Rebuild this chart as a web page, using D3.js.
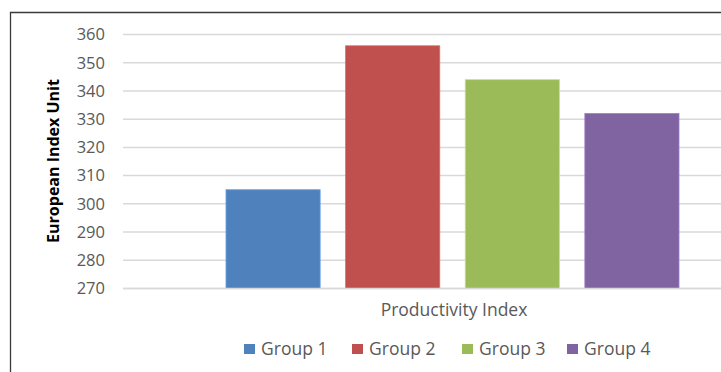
<!DOCTYPE html>
<html>
<head>
<meta charset="utf-8">
<script src="https://cdn.jsdelivr.net/npm/d3@7"></script>
<style>
  html, body { margin: 0; padding: 0; background: #ffffff; }
  svg { display: block; }
</style>
</head>
<body>
<div id="chart"></div>
<script>
// Productivity index per group
const categories = ["Group 1", "Group 2", "Group 3", "Group 4"];
const values = [305, 356, 344, 332];
const colors = ["#4F81BD", "#C0504D", "#9BBB59", "#8064A2"];
const yTicks = [270, 280, 290, 300, 310, 320, 330, 340, 350, 360];
const xAxisLabel = "Productivity Index";
const yAxisLabel = "European Index Unit";

const W = 721, H = 372;
const font = "'Open Sans', 'DejaVu Sans', sans-serif";

const svg = d3.select("#chart").append("svg")
  .attr("width", W).attr("height", H);

// chart frame (left and top edges visible)
svg.append("path")
  .attr("d", `M10.5,${H} V12.5 H${W}`)
  .attr("fill", "none")
  .attr("stroke", "#3a3a3a")
  .attr("stroke-width", 1.3);

const plot = { left: 123, right: W, top: 34.5, bottom: 288.5 };

const y = d3.scaleLinear().domain([270, 360]).range([plot.bottom, plot.top]);
const x = d3.scaleBand().domain(categories).range([226, 679]).paddingInner(0.213).paddingOuter(0);

// horizontal gridlines
svg.append("g")
  .selectAll("line").data(yTicks).join("line")
  .attr("x1", plot.left).attr("x2", plot.right)
  .attr("y1", d => y(d)).attr("y2", d => y(d))
  .attr("stroke", "#d9d9d9").attr("stroke-width", 1.5);

// y axis tick labels
const yAxis = d3.axisLeft(y).tickValues(yTicks).tickSize(0).tickPadding(0);
const gy = svg.append("g").attr("transform", "translate(105,0)").call(yAxis);
gy.select(".domain").remove();
gy.selectAll("text")
  .attr("fill", "#595959")
  .style("font-family", font)
  .style("font-size", "16.5px");

// bars
svg.append("g")
  .selectAll("rect").data(values).join("rect")
  .attr("x", (d, i) => x(categories[i]))
  .attr("y", d => y(d))
  .attr("width", x.bandwidth())
  .attr("height", d => y(270) - y(d))
  .attr("fill", (d, i) => colors[i])
  .attr("stroke", (d, i) => d3.color(colors[i]).brighter(0.6))
  .attr("stroke-width", 0.8);

// x axis baseline
svg.append("line")
  .attr("x1", plot.left).attr("x2", plot.right)
  .attr("y1", y(270)).attr("y2", y(270))
  .attr("stroke", "#d9d9d9").attr("stroke-width", 1.5);

// x axis title
svg.append("text")
  .attr("x", 454).attr("y", 315.5)
  .attr("text-anchor", "middle")
  .attr("fill", "#595959")
  .style("font-family", font)
  .style("font-size", "17.5px")
  .text(xAxisLabel);

// y axis title
svg.append("text")
  .attr("transform", `translate(59,161) rotate(-90)`)
  .attr("text-anchor", "middle")
  .attr("fill", "#000000")
  .style("font-family", "'Liberation Sans Narrow', 'Open Sans', sans-serif")
  .style("font-weight", "bold")
  .style("font-size", "16px")
  .text(yAxisLabel);

// legend
const legendX = [244, 352, 462, 567];
const legend = svg.append("g")
  .selectAll("g").data(categories).join("g")
  .attr("transform", (d, i) => `translate(${legendX[i]},344)`);
legend.append("rect")
  .attr("width", 11).attr("height", 10)
  .attr("fill", (d, i) => colors[i]);
legend.append("text")
  .attr("x", 17).attr("y", 10.5)
  .attr("fill", "#595959")
  .style("font-family", font)
  .style("font-size", "17.5px")
  .text(d => d);
</script>
</body>
</html>
